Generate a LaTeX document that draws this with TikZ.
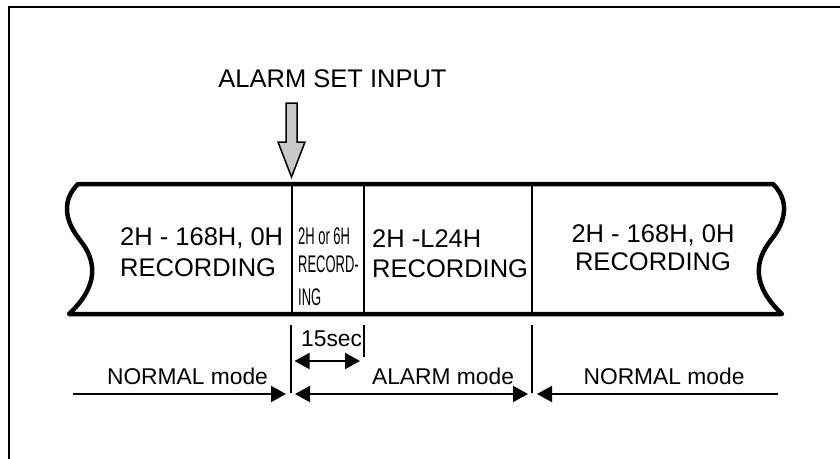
\documentclass[tikz,border=0pt]{standalone}
\usepackage{fontspec}
\setmainfont{Liberation Sans}
\newfontfamily\narrowfont[FakeStretch=0.54]{Liberation Sans}
\usetikzlibrary{arrows.meta}
\tikzset{
  big/.style={font=\fontsize{25.5}{30}\selectfont, inner sep=0pt},
  small/.style={font=\fontsize{22.8}{27}\selectfont, inner sep=0pt},
  narrowtxt/.style={font=\narrowfont\fontsize{24}{28}\selectfont, inner sep=0pt},
  tape/.style={line width=4.5pt, line join=round},
  divider/.style={line width=2pt},
  tick/.style={line width=2pt},
  modearrow/.style={line width=2pt, -{Triangle[length=15pt,width=16pt]}},
  twoarrow/.style={line width=2pt, {Triangle[length=15pt,width=16pt]}-{Triangle[length=15pt,width=16pt]}},
  inputarrow/.style={draw=black, line width=1.5pt, line join=miter, fill={rgb,255:red,200;green,200;blue,200}},
}
\begin{document}
\begin{tikzpicture}[x=1pt,y=-1pt]
\useasboundingbox (0,0) rectangle (840,458);
% frame (left and top edges)
\draw[line width=2pt] (9,460) -- (9,7) -- (842,7);

% title and input arrow
\node[big, anchor=base] (title) at (332.5,87) {ALARM SET INPUT};
\draw[inputarrow] (286,103) -- (297,103) -- (297,142) -- (305,142) -- (291.5,177) -- (278,142) -- (286,142) -- cycle;

% tape
\draw[tape] (78,184) -- (773,184)
  .. controls (789,200) and (787,220) .. (771,240)
  .. controls (755,260) and (751,285) .. (782,314)
  -- (69,314)
  .. controls (100,285) and (96,260) .. (80,240)
  .. controls (64,220) and (62,200) .. (78,184) -- cycle;

% dividers
\coordinate (d1t) at (292,186); \coordinate (d1b) at (292,312);
\coordinate (d2t) at (364,186); \coordinate (d2b) at (364,312);
\coordinate (d3t) at (532,186); \coordinate (d3b) at (532,312);
\draw[divider] (d1t) -- (d1b);
\draw[divider] (d2t) -- (d2b);
\draw[divider] (d3t) -- (d3b);

% tape texts
\node[big, anchor=base west] (l1) at (120,245) {2H - 168H, 0H};
\node[big, anchor=base west] (l2) at (120,276) {RECORDING};
\node[narrowtxt, anchor=base west] (n1) at (298,244) {2H or 6H};
\node[narrowtxt, anchor=base west] (n2) at (298,272) {RECORD-};
\node[narrowtxt, anchor=base west] (n3) at (298,305) {ING};
\node[big, anchor=base west] (m1) at (372,247) {2H -L24H};
\node[big, anchor=base west] (m2) at (372,277) {RECORDING};
\node[big, anchor=base] (r1) at (653,242) {2H - 168H, 0H};
\node[big, anchor=base] (r2) at (653,270) {RECORDING};

% ticks below the tape
\coordinate (t1a) at (291,325); \coordinate (t1b) at (291,393);
\coordinate (t2a) at (364,325); \coordinate (t2b) at (364,357);
\coordinate (t3a) at (532,325); \coordinate (t3b) at (532,393);
\draw[tick] (t1a) -- (t1b);
\draw[tick] (t2a) -- (t2b);
\draw[tick] (t3a) -- (t3b);

% 15 sec
\node[small, anchor=base west] (sec) at (301,346) {15sec};
\coordinate (s1) at (294.5,361); \coordinate (s2) at (360,361);
\draw[twoarrow] (s1) -- (s2);

% mode labels and arrows
\node[small, anchor=base] (nm1) at (187.5,384) {NORMAL mode};
\node[small, anchor=base] (am) at (443,384) {ALARM mode};
\node[small, anchor=base] (nm2) at (664,384) {NORMAL mode};
\coordinate (a0) at (73,394); \coordinate (a1) at (286,394);
\coordinate (b0) at (295,394); \coordinate (b1) at (528,394);
\coordinate (c0) at (537,394); \coordinate (c1) at (778,394);
\draw[modearrow] (a0) -- (a1);
\draw[twoarrow] (b0) -- (b1);
\draw[modearrow] (c1) -- (c0);
\end{tikzpicture}
\end{document}
